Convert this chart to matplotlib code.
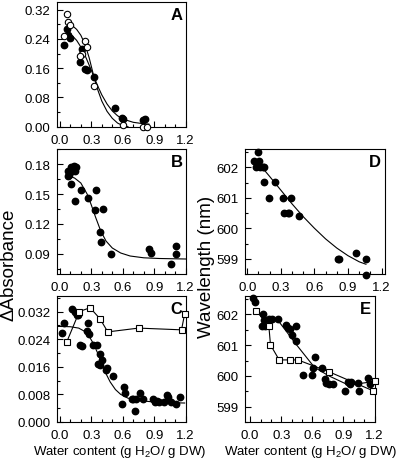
import numpy as np
import matplotlib
matplotlib.use("Agg")
import matplotlib.pyplot as plt
from matplotlib.ticker import MultipleLocator

plt.rcParams['font.family'] = ['Liberation Sans', 'DejaVu Sans']
plt.rcParams['mathtext.fontset'] = 'custom'
plt.rcParams['mathtext.rm'] = 'Liberation Sans'

# ---------------- panel A ----------------
a_fill_x = [0.04, 0.066, 0.075, 0.097, 0.192, 0.208, 0.24, 0.262, 0.326, 0.526, 0.59, 0.605, 0.79, 0.815]
a_fill_y = [0.222, 0.268, 0.250, 0.243, 0.177, 0.211, 0.159, 0.156, 0.136, 0.051, 0.024, 0.020, 0.017, 0.020]
a_open_x = [0.066, 0.080, 0.097, 0.043, 0.208, 0.192, 0.24, 0.262, 0.326, 0.60, 0.79, 0.83]
a_open_y = [0.307, 0.286, 0.279, 0.248, 0.200, 0.193, 0.233, 0.218, 0.111, 0.004, 0.0, 0.0]
a_fit_open_x = [0.08, 0.12, 0.16, 0.20, 0.24, 0.28, 0.32, 0.36, 0.40, 0.45, 0.50, 0.55, 0.60, 0.65]
a_fit_open_y = [0.280, 0.276, 0.266, 0.250, 0.225, 0.188, 0.142, 0.102, 0.070, 0.042, 0.023, 0.010, 0.003, 0.0]
a_fit_fill_x = [0.08, 0.12, 0.16, 0.20, 0.24, 0.28, 0.32, 0.36, 0.40, 0.45, 0.50, 0.55, 0.60, 0.70, 0.80, 0.85]
a_fit_fill_y = [0.255, 0.248, 0.236, 0.218, 0.195, 0.168, 0.140, 0.112, 0.087, 0.062, 0.043, 0.030, 0.021, 0.012, 0.008, 0.007]

# ---------------- panel B ----------------
b_x = [0.077, 0.092, 0.077, 0.108, 0.117, 0.139, 0.14, 0.15, 0.108, 0.145, 0.20, 0.264,
       0.333, 0.342, 0.414, 0.38, 0.389, 0.49, 0.851, 0.867, 1.06, 1.108, 1.108]
b_y = [0.173, 0.169, 0.168, 0.177, 0.173, 0.178, 0.173, 0.177, 0.160, 0.143, 0.154, 0.146,
       0.134, 0.154, 0.135, 0.112, 0.102, 0.090, 0.095, 0.091, 0.080, 0.090, 0.098]
b_fit_x = [0.08, 0.14, 0.20, 0.26, 0.30, 0.34, 0.39, 0.44, 0.50, 0.58, 0.67, 0.80, 0.95, 1.20]
b_fit_y = [0.168, 0.166, 0.161, 0.150, 0.139, 0.127, 0.113, 0.103, 0.096, 0.091, 0.088, 0.0862, 0.0855, 0.085]

# ---------------- panel C ----------------
c_fill_x = [0.02, 0.04, 0.12, 0.145, 0.167, 0.175, 0.19, 0.21, 0.27, 0.26, 0.28, 0.32, 0.35,
            0.38, 0.36, 0.38, 0.40, 0.44, 0.45, 0.51, 0.59, 0.615, 0.62, 0.685, 0.70, 0.717,
            0.73, 0.76, 0.79, 0.886, 0.91, 0.93, 0.95, 0.99, 1.02, 1.03, 1.06, 1.11, 1.15]
c_fill_y = [0.0258, 0.0287, 0.0328, 0.0320, 0.0310, 0.0310, 0.0224, 0.0220, 0.0287, 0.0263,
            0.0254, 0.0224, 0.0224, 0.0196, 0.0167, 0.0164, 0.0181, 0.0152, 0.0155, 0.0133,
            0.0052, 0.0102, 0.0085, 0.0066, 0.0067, 0.0033, 0.0066, 0.0083, 0.0067, 0.0066,
            0.0057, 0.0062, 0.0057, 0.0057, 0.0079, 0.0071, 0.0057, 0.0052, 0.0071]
c_sq_x = [0.066, 0.186, 0.288, 0.383, 0.457, 0.75, 1.16, 1.19]
c_sq_y = [0.0232, 0.0320, 0.0331, 0.0299, 0.0261, 0.0272, 0.0267, 0.0313]
c_fit_x = [-0.03, 0.10, 0.18, 0.24, 0.28, 0.32, 0.36, 0.40, 0.44, 0.48, 0.53, 0.58, 0.65, 0.75, 0.90, 1.05, 1.19]
c_fit_y = [0.0277, 0.0276, 0.0272, 0.0262, 0.0248, 0.0227, 0.0200, 0.0168, 0.0140, 0.0116,
           0.0094, 0.0080, 0.0069, 0.0062, 0.0058, 0.0056, 0.0055]

# ---------------- panel D ----------------
d_x = [0.063, 0.092, 0.078, 0.107, 0.114, 0.137, 0.15, 0.146, 0.19, 0.25, 0.316, 0.325,
       0.36, 0.39, 0.37, 0.46, 0.81, 0.82, 0.967, 1.056, 1.06]
d_y = [602.22, 602.51, 602.0, 602.22, 602.0, 602.0, 602.0, 601.51, 601.0, 601.51, 601.0,
       600.5, 600.5, 601.0, 600.5, 600.4, 599.0, 599.0, 599.2, 599.0, 598.48]
d_fit_x = [0.12, 0.2, 0.3, 0.4, 0.5, 0.6, 0.7, 0.8, 0.9, 1.0, 1.06]
d_fit_y = [602.05, 601.7, 601.25, 600.8, 600.38, 600.0, 599.65, 599.35, 599.1, 598.9, 598.82]

# ---------------- panel E ----------------
e_fill_x = [0.026, 0.042, 0.12, 0.114, 0.13, 0.146, 0.18, 0.21, 0.266, 0.35, 0.363, 0.38,
            0.406, 0.438, 0.438, 0.51, 0.60, 0.623, 0.61, 0.69, 0.72, 0.73, 0.76, 0.80,
            0.915, 0.94, 0.96, 0.97, 1.04, 1.05, 1.136, 1.16]
e_fill_y = [602.55, 602.39, 602.01, 601.63, 601.81, 601.63, 601.85, 601.85, 601.85, 601.67,
            601.56, 601.52, 601.32, 601.63, 601.12, 600.03, 600.03, 600.61, 600.26, 600.26,
            599.9, 599.77, 599.73, 599.73, 599.51, 599.8, 599.73, 599.8, 599.77, 599.51,
            599.92, 599.73]
e_sq_x = [0.058, 0.18, 0.196, 0.28, 0.383, 0.46, 0.757, 1.19]
e_sq_y = [602.12, 601.63, 601.01, 600.52, 600.52, 600.52, 600.14, 599.51]
e_line_x = [0.058, 0.12, 0.18, 0.27, 0.45, 0.62, 0.76, 0.95, 1.2]
e_line_y = [602.12, 601.95, 601.85, 601.80, 601.0, 600.28, 600.0, 599.7, 599.82]

xlabel = 'Water content (g H$_2$O/ g DW)'

W, H = 400, 464
fig = plt.figure(figsize=(W / 100, H / 100), dpi=100)


def add_ax(left, top, right, bottom):
    return fig.add_axes([left / W, 1 - bottom / H, (right - left) / W, (bottom - top) / H])


def style(ax, xlim, ylim, ymaj, ymin, fmt, letter):
    ax.set_xlim(*xlim)
    ax.set_ylim(*ylim)
    ax.xaxis.set_major_locator(MultipleLocator(0.3))
    ax.xaxis.set_minor_locator(MultipleLocator(0.1))
    ax.yaxis.set_major_locator(MultipleLocator(ymaj))
    ax.yaxis.set_minor_locator(MultipleLocator(ymin))
    ax.xaxis.set_major_formatter(plt.FormatStrFormatter('%.1f'))
    ax.yaxis.set_major_formatter(plt.FormatStrFormatter(fmt))
    ax.tick_params(which='both', direction='in', labelsize=9.5, width=0.8)
    ax.tick_params(which='major', length=4.5)
    ax.tick_params(which='minor', length=2.5)
    ax.tick_params(axis='x', which='major', pad=5)
    ax.tick_params(axis='y', which='major', pad=4.5)
    for s in ax.spines.values():
        s.set_linewidth(0.8)
    ax.text(0.93, 0.9, letter, transform=ax.transAxes, ha='center', va='center',
            fontsize=12, fontweight='bold')


ms = 4.6
filled = dict(ls='none', marker='o', ms=ms, mfc='black', mec='black', zorder=4, clip_on=False)
hollow = dict(ls='none', marker='o', ms=ms, mfc='white', mec='black', mew=0.8, zorder=5, clip_on=False)
square = dict(ls='-', color='black', lw=0.8, marker='s', ms=4.2, mfc='white', mec='black', mew=0.8,
              zorder=5, clip_on=False)

axA = add_ax(56.7, 3.3, 185.7, 127.7)
axA.plot(a_fit_open_x, a_fit_open_y, color='black', lw=0.8)
axA.plot(a_fit_fill_x, a_fit_fill_y, color='black', lw=0.8)
axA.plot(a_fill_x, a_fill_y, **filled)
axA.plot(a_open_x, a_open_y, **hollow)
style(axA, (-0.03, 1.2), (0, 0.34), 0.08, 0.04, '%.2f', 'A')

axB = add_ax(56.7, 150, 185.7, 275)
axB.plot(b_fit_x, b_fit_y, color='black', lw=0.8)
axB.plot(b_x, b_y, **filled)
style(axB, (-0.03, 1.2), (0.07, 0.195), 0.03, 0.015, '%.2f', 'B')

axC = add_ax(56.7, 297, 185.7, 423)
axC.plot(c_fit_x, c_fit_y, color='black', lw=0.8)
axC.plot(c_fill_x, c_fill_y, **filled)
axC.plot(c_sq_x, c_sq_y, **square)
style(axC, (-0.03, 1.2), (0, 0.0365), 0.008, 0.004, '%.3f', 'C')

axD = add_ax(245, 150, 385, 275)
axD.plot(d_fit_x, d_fit_y, color='black', lw=0.8)
axD.plot(d_x, d_y, **filled)
style(axD, (-0.02, 1.23), (598.5, 602.6), 1, 0.5, '%d', 'D')

axE = add_ax(245, 297, 374.5, 423)
axE.plot(e_line_x, e_line_y, color='black', lw=0.8)
axE.plot(e_fill_x, e_fill_y, **filled)
axE.plot(e_sq_x, e_sq_y, **square)
# end square of the upper line
axE.plot(e_line_x[-1:], e_line_y[-1:], **square)
style(axE, (-0.05, 1.2), (598.5, 602.6), 1, 0.5, '%d', 'E')

fig.text(120 / W, 1 - 444 / H, xlabel, ha='center', va='top', fontsize=9.5)
fig.text(311 / W, 1 - 444 / H, xlabel, ha='center', va='top', fontsize=9.5)
fig.text(9 / W, 1 - 265 / H, '\u0394Absorbance', rotation=90, ha='center', va='center', fontsize=13.5)
fig.text(207 / W, 1 - 267 / H, 'Wavelength (nm)', rotation=90, ha='center', va='center', fontsize=13.5)

fig.savefig('out.png', dpi=100)
